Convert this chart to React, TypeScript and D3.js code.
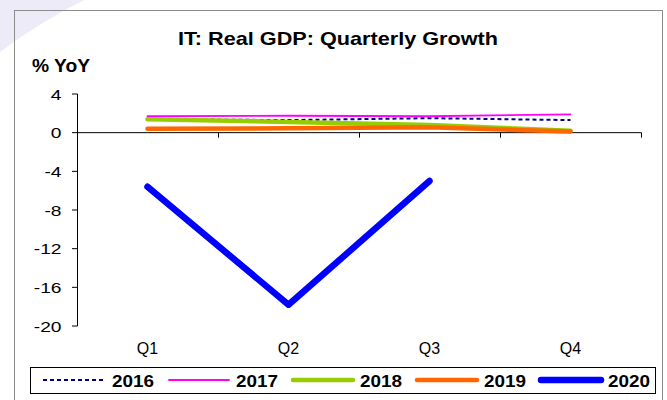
import React from "react";
import * as d3 from "d3";

const quarters = ["Q1", "Q2", "Q3", "Q4"];
const yTicks = [4, 0, -4, -8, -12, -16, -20];

const years = ["2016", "2017", "2018", "2019", "2020"];
const v2016 = [1.4, 1.3, 1.5, 1.3];
const v2017 = [1.7, 1.75, 1.7, 1.9];
const v2018 = [1.4, 1.1, 0.8, 0.2];
const v2019 = [0.4, 0.45, 0.55, 0.12];
const v2020 = [-5.6, -17.8, -5.0];

const seriesValues = [v2016, v2017, v2018, v2019, v2020];
const styles = [
  { color: "#000080", width: 2, dash: "4,3" },
  { color: "#ff00ff", width: 1.8, dash: null },
  { color: "#99cc00", width: 4.5, dash: null },
  { color: "#ff6600", width: 4.5, dash: null },
  { color: "#0000ff", width: 6.5, dash: null },
];

const FONT = "'Liberation Sans', Arial, sans-serif";

export default function App() {
  const x = d3.scaleBand<string>().domain(quarters).range([77, 641]);
  const y = d3.scaleLinear().domain([-20, 4]).range([326, 94]);
  const cx = (q: string) => (x(q) as number) + x.bandwidth() / 2;

  const line = d3
    .line<number>()
    .x((_, i) => cx(quarters[i]))
    .y((d) => y(d));

  const y0 = y(0);
  const boundaries = quarters.map((q) => (x(q) as number) + x.bandwidth());

  const legendX = [43, 167, 291, 415, 539];

  return (
    <svg
      width={667}
      height={400}
      style={{ position: "absolute", left: 0, top: 0, background: "#fff" }}
    >
      <path d="M0,0 L84,0 Q40,22 0,52 Z" fill="#ecebf7" />
      <rect x={14.5} y={10.5} width={648} height={400} fill="none" stroke="#8c8c8c" strokeWidth={1} />

      <text
        x={178}
        y={45}
        fontFamily={FONT}
        fontWeight="bold"
        fontSize={18.5}
        textLength={320}
        lengthAdjust="spacingAndGlyphs"
      >
        IT: Real GDP: Quarterly Growth
      </text>
      <text
        x={32}
        y={72}
        fontFamily={FONT}
        fontWeight="bold"
        fontSize={18}
        textLength={58}
        lengthAdjust="spacingAndGlyphs"
      >
        % YoY
      </text>

      {/* y axis */}
      <line x1={77.5} x2={77.5} y1={y(4)} y2={y(-20)} stroke="#000" strokeWidth={1} />
      {yTicks.map((t) => (
        <g key={t}>
          <line x1={72} x2={77.5} y1={y(t)} y2={y(t)} stroke="#000" strokeWidth={1} />
          <text
            transform={`translate(61.5,${y(t) + 5.5}) scale(1.28,1)`}
            textAnchor="end"
            fontFamily={FONT}
            fontSize={15}
          >
            {t}
          </text>
        </g>
      ))}

      {/* x axis at zero */}
      <line x1={77} x2={641.5} y1={y0} y2={y0} stroke="#000" strokeWidth={1} />
      {boundaries.map((b, i) => (
        <line key={i} x1={b + 0.5} x2={b + 0.5} y1={y0} y2={y0 + 5} stroke="#000" strokeWidth={1} />
      ))}
      {quarters.map((q) => (
        <text key={q} x={cx(q)} y={354} textAnchor="middle" fontFamily={FONT} fontSize={16}>
          {q}
        </text>
      ))}

      {/* series */}
      {seriesValues.map((vals, i) => (
        <path
          key={years[i]}
          d={line(vals) || ""}
          fill="none"
          stroke={styles[i].color}
          strokeWidth={styles[i].width}
          strokeDasharray={styles[i].dash || undefined}
          strokeLinecap={styles[i].dash ? "butt" : "round"}
          strokeLinejoin="round"
        />
      ))}

      {/* legend */}
      <rect x={30.5} y={367.5} width={625} height={26} fill="#fff" stroke="#000" strokeWidth={1} />
      {years.map((yr, i) => (
        <g key={yr}>
          <line
            x1={legendX[i] + (styles[i].dash ? 0 : 2)}
            x2={legendX[i] + 62}
            y1={380}
            y2={380}
            stroke={styles[i].color}
            strokeWidth={styles[i].width}
            strokeDasharray={styles[i].dash || undefined}
            strokeLinecap={styles[i].dash ? "butt" : "round"}
          />
          <text
            x={legendX[i] + 69}
            y={386.5}
            fontFamily={FONT}
            fontWeight="bold"
            fontSize={16.5}
            textLength={42}
            lengthAdjust="spacingAndGlyphs"
          >
            {yr}
          </text>
        </g>
      ))}
    </svg>
  );
}
